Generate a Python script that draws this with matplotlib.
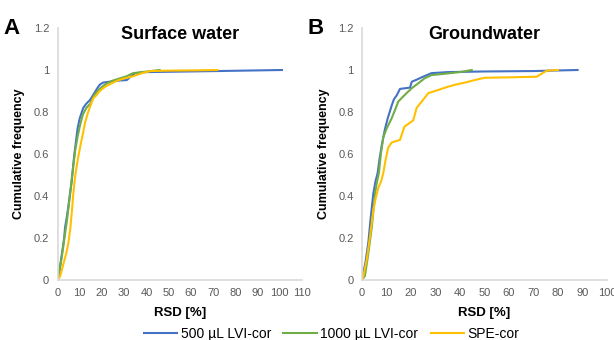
import matplotlib
matplotlib.use("Agg")
import matplotlib.pyplot as plt
from matplotlib.lines import Line2D

plt.rcParams['font.family'] = ['Liberation Sans', 'DejaVu Sans']

# Surface water (panel A)
sw_500_rsd = [0, 0.8, 1.5, 2.2, 3.0, 3.4, 4.2, 5.0, 5.6, 6.4, 7.1, 7.6, 8.3, 9.0, 10.0,
              11.6, 13.0, 14.6, 16.0, 17.7, 19.0, 20.5, 24.0, 28.0, 31.2, 33.0, 35.0,
              40.0, 72.0, 101.0]
sw_500_cf = [0, 0.04, 0.09, 0.14, 0.2, 0.25, 0.3, 0.36, 0.41, 0.47, 0.55, 0.6, 0.66, 0.72,
             0.77, 0.82, 0.84, 0.857, 0.88, 0.91, 0.93, 0.94, 0.945, 0.95, 0.952, 0.97,
             0.985, 0.99, 0.995, 1.0]
sw_1000_rsd = [0, 1.0, 1.8, 2.6, 3.4, 4.2, 5.0, 5.8, 6.5, 7.2, 8.0, 9.0, 10.2, 11.5, 13.0,
               14.8, 16.5, 18.0, 20.0, 22.0, 25.0, 28.0, 31.0, 34.0, 38.0, 42.0, 46.0]
sw_1000_cf = [0, 0.05, 0.1, 0.16, 0.22, 0.28, 0.35, 0.42, 0.49, 0.55, 0.62, 0.68, 0.74,
              0.79, 0.82, 0.84, 0.88, 0.9, 0.92, 0.935, 0.95, 0.96, 0.97, 0.985, 0.99,
              0.995, 1.0]
sw_spe_rsd = [0, 1.1, 2.0, 3.0, 4.0, 4.9, 5.8, 6.5, 7.1, 7.9, 8.6, 9.4, 10.5, 11.5, 12.4,
              13.5, 14.8, 16.1, 17.5, 19.0, 21.4, 24.0, 27.0, 30.0, 34.0, 38.0, 41.7,
              50.0, 60.0, 72.0]
sw_spe_cf = [0, 0.016, 0.05, 0.09, 0.13, 0.176, 0.25, 0.33, 0.41, 0.49, 0.54, 0.59, 0.65,
             0.7, 0.75, 0.79, 0.83, 0.865, 0.88, 0.9, 0.92, 0.935, 0.95, 0.96, 0.97,
             0.985, 0.995, 0.997, 0.998, 1.0]

# Groundwater (panel B)
gw_500_rsd = [0, 0.5, 1.5, 2.6, 3.5, 4.6, 5.5, 6.4, 7.2, 8.2, 9.4, 10.5, 12.1, 13.0, 14.2,
              15.5, 17.5, 19.6, 20.3, 22.5, 24.9, 28.4, 35, 50, 70, 88]
gw_500_cf = [0, 0.03, 0.09, 0.18, 0.29, 0.41, 0.47, 0.51, 0.58, 0.65, 0.72, 0.77, 0.83,
             0.86, 0.88, 0.91, 0.913, 0.916, 0.944, 0.955, 0.968, 0.985, 0.99, 0.993,
             0.995, 1.0]
gw_1000_rsd = [0, 1.2, 2.5, 4.0, 5.3, 6.0, 6.9, 7.7, 8.7, 10.0, 12.1, 13.5, 14.8, 16.5,
               18.2, 20.5, 23.0, 25.5, 28.4, 32, 36, 40, 44.8]
gw_1000_cf = [0, 0.02, 0.12, 0.25, 0.41, 0.46, 0.51, 0.6, 0.68, 0.72, 0.77, 0.81, 0.85,
              0.87, 0.89, 0.915, 0.937, 0.96, 0.976, 0.98, 0.985, 0.99, 1.0]
gw_spe_rsd = [0, 0.5, 1.9, 3.2, 4.6, 5.6, 6.7, 7.8, 8.7, 9.6, 10.7, 12.1, 15.5, 17.3,
              20.9, 22.3, 24.4, 27.1, 31.1, 35, 38, 42, 46, 50, 60, 71.3, 75.4, 80]
gw_spe_cf = [0, 0.016, 0.095, 0.2, 0.33, 0.39, 0.44, 0.47, 0.51, 0.57, 0.63, 0.655,
             0.667, 0.73, 0.76, 0.82, 0.85, 0.89, 0.905, 0.92, 0.93, 0.94, 0.952, 0.963,
             0.965, 0.968, 0.997, 1.0]

labels = ["500 µL LVI-cor", "1000 µL LVI-cor", "SPE-cor"]
colors = ["#4472C4", "#70AD47", "#FFC000"]

fig = plt.figure(figsize=(6.14, 3.40), dpi=100)
ax_a = fig.add_axes([57.5 / 614, 1 - 280 / 340, 244.5 / 614, 252 / 340])
ax_b = fig.add_axes([362 / 614, 1 - 280 / 340, 245 / 614, 252 / 340])

panels = [
    (ax_a, "Surface water", "A", 110,
     [(sw_500_rsd, sw_500_cf), (sw_1000_rsd, sw_1000_cf), (sw_spe_rsd, sw_spe_cf)]),
    (ax_b, "Groundwater", "B", 100,
     [(gw_500_rsd, gw_500_cf), (gw_1000_rsd, gw_1000_cf), (gw_spe_rsd, gw_spe_cf)]),
]

for ax, title, letter, xmax, series in panels:
    for (x, y), c in zip(series, colors):
        ax.plot(x, y, color=c, lw=1.5, solid_joinstyle="round")
    ax.set_xlim(0, xmax)
    ax.set_ylim(0, 1.2)
    ax.set_xticks(range(0, xmax + 1, 10))
    ax.set_yticks([0, 0.2, 0.4, 0.6, 0.8, 1, 1.2])
    ax.set_yticklabels(["0", "0.2", "0.4", "0.6", "0.8", "1", "1.2"])
    ax.tick_params(length=0, labelsize=8, labelcolor="#595959", pad=6)
    for s in ["top", "right"]:
        ax.spines[s].set_visible(False)
    for s in ["left", "bottom"]:
        ax.spines[s].set_color("#D9D9D9")
        ax.spines[s].set_linewidth(1.2)
    ax.set_title(title, fontsize=13, fontweight="bold", pad=-8, y=1.0)
    ax.set_xlabel("RSD [%]", fontsize=9.5, fontweight="bold", labelpad=6)
    ax.set_ylabel("Cumulative frequency", fontsize=9, fontweight="bold", labelpad=6)
    ax.text(-0.19, 1.0, letter, transform=ax.transAxes, fontsize=16,
            fontweight="bold", ha="center", va="center")

handles = [Line2D([], [], color=c, lw=1.5) for c in colors]
fig.legend(handles, labels, loc="lower center", bbox_to_anchor=(0.54, -0.04), ncol=3,
           frameon=False, fontsize=10, handlelength=2.4, handletextpad=0.25,
           columnspacing=0.9)

fig.savefig("out.png", dpi=100)
